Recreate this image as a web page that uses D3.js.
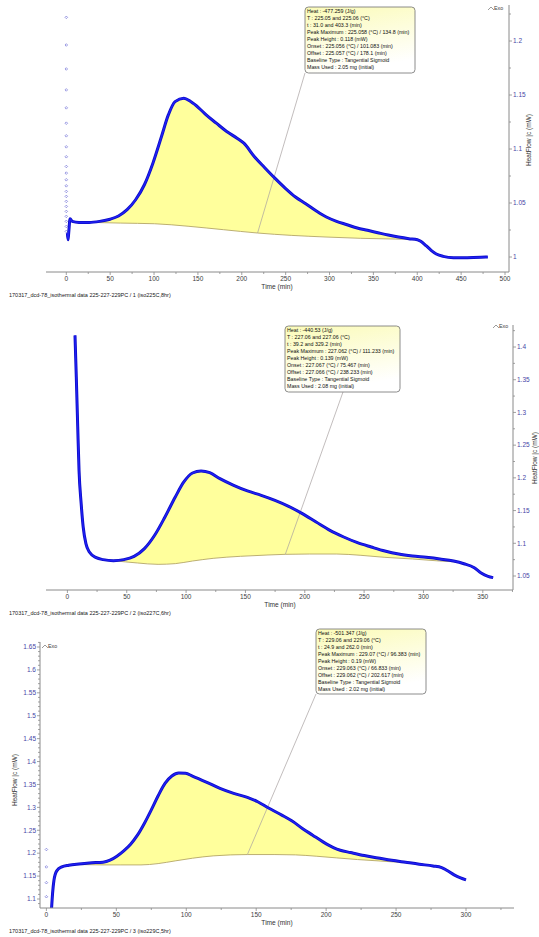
<!DOCTYPE html>
<html><head><meta charset="utf-8">
<script src="https://cdn.jsdelivr.net/npm/d3@7"></script>
<style>body{margin:0;background:#fff}svg{display:block}text{font-family:"Liberation Sans",Arial,sans-serif}</style>
</head><body>
<svg id="c" width="539" height="937"></svg>
<script>
// ---------- DATA ----------
// Panel 1 (iso 225 °C, 8 hr)
const p1Time = [1.2,2,2.7,4.3,6.7,14.5,26,38,50,59.5,69.3,79,89,98.7,108.5,116.3,124,134,141.7,151.5,159.4,171,182.8,194.6,202.4,214.2,225.9,237.7,249.4,261.2,272.9,284.6,296.4,308,320,331.6,343.4,355,366.9,378.6,390.4,400.2,404,410,415.8,421.7,429.5,441.3,457,472.6,480.4];
const p1Flow = [1.0222,1.016,1.022,1.0354,1.033,1.032,1.032,1.033,1.035,1.038,1.0438,1.053,1.0669,1.0869,1.1116,1.1316,1.1439,1.147,1.1439,1.1377,1.1316,1.1239,1.1162,1.110,1.1054,1.0931,1.0829,1.073,1.0638,1.0555,1.0493,1.0428,1.037,1.033,1.0299,1.0268,1.0247,1.0225,1.0203,1.0185,1.017,1.016,1.0145,1.0105,1.0062,1.0028,1.0006,0.9994,0.9994,0.9997,1.0];
const p1BaseTime = [31,61.5,100.6,139.8,179,218,257,296,335.5,374.7,403.3];
const p1BaseFlow = [1.032,1.0314,1.0308,1.0284,1.0253,1.0222,1.02,1.0185,1.0173,1.0166,1.016];
const p1DotFlow = [1.2219,1.1963,1.1741,1.1547,1.1381,1.1239,1.1122,1.1020,1.0928,1.0838,1.0777,1.0715,1.0659,1.0607,1.0561,1.0515,1.0468,1.0422,1.0376,1.0330,1.0283,1.0237];
const p1XTicks = [0,50,100,150,200,250,300,350,400,450,500];
const p1YTicks = [1,1.05,1.1,1.15,1.2];
const p1Info = ["Heat :  -477.259 (J/g)","T :  225.05 and 225.06 (°C)","t :  31.0 and 403.3 (min)","Peak Maximum :  225.058 (°C) / 134.8 (min)","Peak Height :  0.118 (mW)","Onset :  225.056 (°C) / 101.083 (min)","Offset :  225.057 (°C) / 178.1 (min)","Baseline Type :  Tangential Sigmoid","Mass Used :  2.05 mg (initial)"];
const p1Leader = [218, 1.0222];
const p1Footer = "170317_dcd-78_isothermal data 225-227-229PC / 1 (iso225C,8hr)";

// Panel 2 (iso 227 °C, 6 hr)
const p2Time = [6.4,7.5,8.7,9.8,11.6,13.3,15.6,18.5,24.3,30.1,38.8,47.5,56.2,64.9,73.5,82.2,90.9,98.1,105.4,112.6,119.9,128.5,140.1,151.7,163.3,174.9,186.4,198,209.6,221.2,232.8,244.4,256,267.5,279.1,290.7,302.3,313.8,325.4,334.1,342.8,348.6,354.4,358.7];
const p2Flow = [1.4178,1.354,1.2777,1.2115,1.1606,1.1249,1.0994,1.0867,1.078,1.075,1.0734,1.075,1.080,1.0918,1.1122,1.1402,1.1707,1.1937,1.2074,1.2105,1.208,1.1988,1.1886,1.180,1.1733,1.1656,1.1565,1.1453,1.1325,1.1198,1.1096,1.1009,1.0943,1.0882,1.0836,1.0806,1.0785,1.076,1.0729,1.0688,1.0627,1.0546,1.0495,1.0475];
const p2BaseTime = [39.2,59,76.4,90.9,105.4,122.8,145.9,169,183.6,203.8,227,247.3,267.5,290.7,313.8,329.2];
const p2BaseFlow = [1.0734,1.0699,1.0678,1.0689,1.0729,1.077,1.0801,1.0821,1.0831,1.0836,1.0836,1.0816,1.0785,1.076,1.0729,1.0714];
const p2XTicks = [0,50,100,150,200,250,300,350];
const p2YTicks = [1.05,1.1,1.15,1.2,1.25,1.3,1.35,1.4];
const p2Info = ["Heat :  -440.53 (J/g)","T :  227.06 and 227.06 (°C)","t :  39.2 and 329.2 (min)","Peak Maximum :  227.062 (°C) / 111.233 (min)","Peak Height :  0.139 (mW)","Onset :  227.067 (°C) / 75.467 (min)","Offset :  227.066 (°C) / 238.233 (min)","Baseline Type :  Tangential Sigmoid","Mass Used :  2.08 mg (initial)"];
const p2Leader = [183.6, 1.0831];
const p2Footer = "170317_dcd-78_isothermal data 225-227-229PC / 2 (iso227C,6hr)";

// Panel 3 (iso 229 °C, 5 hr)
const p3Time = [3.7,4.4,5.4,7.4,11,16,23.3,30.7,40.5,45.5,50.4,55.3,60.2,65.1,70,74.9,79.9,84.8,89.7,94.6,99.5,104.4,114.3,124.1,133.9,143.7,151.1,158.5,168.3,175.7,183,190.4,197.8,205.2,210.1,217.4,227.3,237.1,246.9,256.8,266.6,276.4,282.6,286.2,291.2,296.1,300];
const p3Flow = [1.0796,1.1117,1.1408,1.1613,1.170,1.1737,1.1766,1.1788,1.1802,1.1846,1.1934,1.205,1.2196,1.2393,1.2649,1.294,1.3254,1.3524,1.3684,1.375,1.3743,1.3684,1.3553,1.3414,1.3305,1.3218,1.3123,1.2991,1.2831,1.27,1.254,1.2393,1.2247,1.2123,1.2065,1.2014,1.1948,1.1897,1.1846,1.1802,1.1759,1.1722,1.1686,1.1627,1.1532,1.146,1.1416];
const p3BaseTime = [24.9,40.5,52.8,67.6,79.9,92.1,104.4,119.2,143.7,163.4,178.1,192.9,207.6,222.4,237.1,251.8,262.0];
const p3BaseFlow = [1.1751,1.1744,1.1744,1.1744,1.1773,1.1832,1.189,1.1941,1.197,1.197,1.1963,1.1934,1.1897,1.1861,1.1832,1.1802,1.1788];
const p3DotFlow = [1.208,1.170,1.1357,1.105];
const p3XTicks = [0,50,100,150,200,250,300];
const p3YTicks = [1.1,1.15,1.2,1.25,1.3,1.35,1.4,1.45,1.5,1.55,1.6,1.65];
const p3Info = ["Heat :  -501.347 (J/g)","T :  229.06 and 229.06 (°C)","t :  24.9 and 262.0 (min)","Peak Maximum :  229.07 (°C) / 96.383 (min)","Peak Height :  0.19 (mW)","Onset :  229.063 (°C) / 66.833 (min)","Offset :  229.062 (°C) / 202.617 (min)","Baseline Type :  Tangential Sigmoid","Mass Used :  2.02 mg (initial)"];
const p3Leader = [143.7, 1.197];
const p3Footer = "170317_dcd-78_isothermal data 225-227-229PC / 3 (iso229C,5hr)";

const xTitle = "Time (min)";
const yTitle = "HeatFlow |c (mW)";

// ---------- DRAW ----------
const svg = d3.select("#c");
const defs = svg.append("defs");
const grad = defs.append("linearGradient").attr("id","boxg").attr("x1",0).attr("y1",0).attr("x2",0.3).attr("y2",1);
grad.append("stop").attr("offset","0%").attr("stop-color","#fbfbb8");
grad.append("stop").attr("offset","100%").attr("stop-color","#ffffff");

const AX = "#8a8a8a", LBL = "#4646a6";

function zip(a,b){return a.map((v,i)=>[v,b[i]]);}

function panel(cfg){
  const g = svg.append("g");
  const x = d3.scaleLinear().domain(cfg.xDom).range(cfg.xRng);
  const y = d3.scaleLinear().domain(cfg.yDom).range(cfg.yRng);
  const cid = "clip"+cfg.id;
  defs.append("clipPath").attr("id",cid).append("rect")
    .attr("x",cfg.axL).attr("y",cfg.top).attr("width",cfg.axR-cfg.axL).attr("height",cfg.bot-cfg.top);
  const pg = g.append("g").attr("clip-path",`url(#${cid})`);
  const curve = zip(cfg.time,cfg.flow);
  const base = zip(cfg.bt,cfg.bf);
  const t0 = cfg.bt[0], t1 = cfg.bt[cfg.bt.length-1];
  const upper = [[t0,cfg.bf[0]]].concat(curve.filter(d=>d[0]>t0 && d[0]<t1)).concat([[t1,cfg.bf[cfg.bf.length-1]]]);
  const poly = upper.concat(base.slice().reverse());
  const line = d3.line().x(d=>x(d[0])).y(d=>y(d[1])).curve(d3.curveMonotoneX);
  const lineL = d3.line().x(d=>x(d[0])).y(d=>y(d[1]));
  pg.append("path").attr("d",lineL(poly)).attr("fill","#ffff9c").attr("stroke","none");
  pg.append("path").attr("d",line(base)).attr("fill","none").attr("stroke","#b4a668").attr("stroke-width",0.9);
  // leader
  pg.append("line").attr("x1",x(cfg.leader[0])).attr("y1",y(cfg.leader[1]))
    .attr("x2",cfg.box[0]+cfg.leadDx).attr("y2",cfg.box[1]+cfg.box[3])
    .attr("stroke","#a8a0a0").attr("stroke-width",0.7);
  // dots
  if(cfg.dots){
    pg.selectAll(".dot"+cfg.id).data(cfg.dots).join("path")
      .attr("d",d=>{const cx=x(0), cy=y(d); return `M${cx-1.3},${cy}L${cx},${cy-1.3}L${cx+1.3},${cy}L${cx},${cy+1.3}Z`;})
      .attr("fill","none").attr("stroke","#5a5ad0").attr("stroke-width",0.6);
  }
  pg.append("path").attr("d",line(curve)).attr("fill","none").attr("stroke","#0c0cc8").attr("stroke-width",3).attr("stroke-linejoin","round");
  pg.append("path").attr("d",line(curve)).attr("fill","none").attr("stroke","#2020f4").attr("stroke-width",1.4);

  // x axis
  const xa = g.append("g");
  xa.append("line").attr("x1",cfg.axL).attr("x2",cfg.axR).attr("y1",cfg.bot).attr("y2",cfg.bot).attr("stroke",AX).attr("stroke-width",1);
  const xt = cfg.xTicks;
  const step = xt[1]-xt[0];
  const xminor = d3.range(xt[0]-step, xt[xt.length-1]+step, step/2).filter(v=>x(v)>cfg.axL && x(v)<cfg.axR);
  xa.selectAll("line.mx").data(xminor).join("line").attr("class","mx")
    .attr("x1",d=>x(d)).attr("x2",d=>x(d)).attr("y1",cfg.bot).attr("y2",d=>cfg.bot+(xt.includes(d)?3:2)).attr("stroke",AX).attr("stroke-width",0.8);
  xa.selectAll("text").data(xt).join("text").attr("x",d=>x(d)).attr("y",cfg.bot+9).attr("text-anchor","middle")
    .attr("font-size",6.5).attr("fill","#404040").text(d=>d);
  g.append("text").attr("x",cfg.xTitleX).attr("y",cfg.bot+17).attr("text-anchor","middle").attr("font-size",6.6).attr("fill","#303030").text(xTitle);
  g.append("text").attr("x",9).attr("y",cfg.bot+25).attr("font-size",5.5).attr("fill","#202020").text(cfg.footer);

  // y axis
  const ya = g.append("g");
  const ax = cfg.yAxisX, dir = cfg.yRight ? 1 : -1;
  ya.append("line").attr("x1",ax).attr("x2",ax).attr("y1",cfg.top).attr("y2",cfg.bot).attr("stroke",AX).attr("stroke-width",1);
  const yt = cfg.yTicks, ys = (yt[1]-yt[0])/cfg.yMinorN;
  const yminor = d3.range(yt[0]-ys*cfg.yMinorN, yt[yt.length-1]+ys*(cfg.yMinorN+0.5), ys).filter(v=>y(v)>cfg.top && y(v)<cfg.bot);
  ya.selectAll("line.my").data(yminor).join("line").attr("class","my")
    .attr("x1",ax).attr("x2",d=>ax+dir*(yt.some(t=>Math.abs(t-d)<1e-9)?3:2)).attr("y1",d=>y(d)).attr("y2",d=>y(d)).attr("stroke",AX).attr("stroke-width",0.8);
  ya.selectAll("text").data(yt).join("text").attr("x",ax+dir*4).attr("y",d=>y(d)+2.3)
    .attr("text-anchor",cfg.yRight?"start":"end").attr("font-size",6.5).attr("fill",LBL).text(d=>+d.toFixed(3));
  g.append("text").attr("transform",`translate(${cfg.yTitleX},${cfg.yTitleY}) rotate(-90)`).attr("text-anchor","middle")
    .attr("font-size",6.5).attr("fill","#303030").text(yTitle);

  // Exo marker
  const [ex,ey] = cfg.exo;
  g.append("path").attr("d",`M${ex},${ey+3}L${ex+3},${ey}L${ex+6},${ey+3}`).attr("fill","none").attr("stroke","#707070").attr("stroke-width",0.7);
  g.append("text").attr("x",ex+6).attr("y",ey+2.5).attr("font-size",5.4).attr("fill","#404040").text("Exo");

  // info box
  const [bx,by,bw,bh] = cfg.box;
  g.append("rect").attr("x",bx).attr("y",by).attr("width",bw).attr("height",bh).attr("rx",3.5)
    .attr("fill","url(#boxg)").attr("stroke","#707070").attr("stroke-width",0.8);
  g.selectAll("text.info").data(cfg.info).join("text").attr("class","info")
    .attr("x",bx+2).attr("y",(d,i)=>by+6+i*7.05).attr("font-size",5.3).attr("fill","#101010").text(d=>d);
}

panel({id:1,time:p1Time,flow:p1Flow,bt:p1BaseTime,bf:p1BaseFlow,dots:p1DotFlow,xTicks:p1XTicks,yTicks:p1YTicks,
  info:p1Info,leader:p1Leader,footer:p1Footer,
  xDom:[0,500],xRng:[66.3,505],yDom:[1,1.2],yRng:[257,41],top:5,bot:272,axL:46,axR:509,
  yAxisX:509,yRight:true,yMinorN:2,yTitleX:531,yTitleY:140,xTitleX:277,exo:[488,7],
  box:[305,7,110,66],leadDx:0});
panel({id:2,time:p2Time,flow:p2Flow,bt:p2BaseTime,bf:p2BaseFlow,xTicks:p2XTicks,yTicks:p2YTicks,
  info:p2Info,leader:p2Leader,footer:p2Footer,
  xDom:[0,350],xRng:[67.4,482.8],yDom:[1.05,1.4],yRng:[576,347],top:325,bot:590,axL:46,axR:513,
  yAxisX:513,yRight:true,yMinorN:2,yTitleX:537,yTitleY:458,xTitleX:280,exo:[493,325],
  box:[285,326,115,66],leadDx:58});
panel({id:3,time:p3Time,flow:p3Flow,bt:p3BaseTime,bf:p3BaseFlow,dots:p3DotFlow,xTicks:p3XTicks,yTicks:p3YTicks,
  info:p3Info,leader:p3Leader,footer:p3Footer,
  xDom:[0,300],xRng:[46.4,466],yDom:[1.1,1.65],yRng:[899,647],top:642,bot:908,axL:40,axR:514,
  yAxisX:40,yRight:false,yMinorN:5,yTitleX:17,yTitleY:780,xTitleX:277,exo:[42,645],
  box:[316,629,110,65],leadDx:0});
</script>
</body></html>
